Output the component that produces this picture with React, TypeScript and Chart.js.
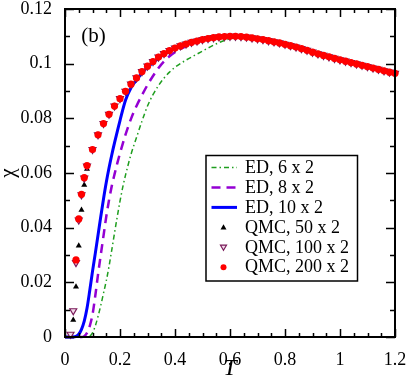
import React, { useEffect, useRef } from 'react';
import { Chart, registerables } from 'chart.js';
Chart.register(...registerables);

const FONT = "'Liberation Serif', 'Times New Roman', serif";

const xTickLabels = ['0', '0.2', '0.4', '0.6', '0.8', '1', '1.2'];
const yTickLabels = ['0', '0.02', '0.04', '0.06', '0.08', '0.1', '0.12'];

// ED, 6 x 2
const ed6T = [0, 0.08, 0.09, 0.10, 0.11, 0.12, 0.13, 0.14, 0.15, 0.16, 0.17, 0.18, 0.19, 0.20, 0.21, 0.22, 0.24, 0.26, 0.28, 0.30, 0.32, 0.34, 0.36, 0.38, 0.40, 0.44, 0.48, 0.52, 0.56, 0.60, 0.65, 0.70, 0.80, 0.90, 1.00, 1.10, 1.20];
const ed6Chi = [0, 0, 0.0003, 0.0015, 0.0040, 0.0075, 0.0115, 0.0160, 0.0205, 0.0258, 0.0318, 0.0380, 0.0440, 0.0497, 0.0548, 0.0592, 0.0668, 0.0730, 0.0790, 0.0845, 0.0887, 0.0920, 0.0947, 0.0969, 0.0987, 0.1013, 0.1035, 0.1057, 0.1077, 0.1091, 0.1097, 0.1094, 0.1071, 0.1042, 0.1014, 0.0989, 0.0965];

// ED, 8 x 2
const ed8T = [0, 0.06, 0.07, 0.08, 0.09, 0.10, 0.11, 0.12, 0.13, 0.14, 0.15, 0.16, 0.17, 0.18, 0.19, 0.20, 0.22, 0.24, 0.26, 0.28, 0.30, 0.32, 0.34, 0.36, 0.38, 0.40, 0.45, 0.50, 0.55, 0.60, 0.70, 0.80, 0.90, 1.00, 1.10, 1.20];
const ed8Chi = [0, 0, 0.0003, 0.0015, 0.0040, 0.0082, 0.0150, 0.0228, 0.0300, 0.0370, 0.0440, 0.0500, 0.0552, 0.0595, 0.0635, 0.0672, 0.0740, 0.0798, 0.0845, 0.0885, 0.0922, 0.0955, 0.0984, 0.1008, 0.1027, 0.1042, 0.1068, 0.1085, 0.1095, 0.1099, 0.1091, 0.1071, 0.1042, 0.1014, 0.0989, 0.0965];

// ED, 10 x 2
const ed10T = [0, 0.03, 0.04, 0.05, 0.06, 0.07, 0.08, 0.09, 0.10, 0.11, 0.12, 0.13, 0.14, 0.15, 0.16, 0.17, 0.18, 0.19, 0.20, 0.22, 0.24, 0.26, 0.28, 0.30, 0.32, 0.34, 0.36, 0.40, 0.45, 0.50, 0.55, 0.60, 0.70, 0.80, 0.90, 1.00, 1.10, 1.20];
const ed10Chi = [0, 0, 0.0002, 0.0010, 0.0028, 0.0058, 0.0105, 0.0170, 0.0240, 0.0305, 0.0372, 0.0440, 0.0505, 0.0565, 0.0618, 0.0666, 0.0710, 0.0751, 0.0792, 0.0866, 0.0912, 0.0940, 0.0966, 0.0987, 0.1004, 0.1020, 0.1034, 0.1056, 0.1076, 0.1089, 0.1097, 0.1100, 0.1091, 0.1071, 0.1042, 0.1014, 0.0989, 0.0965];

// QMC, low temperatures (sizes differ)
const qmc50LowT = [0.02, 0.03, 0.04, 0.05, 0.06, 0.07, 0.08];
const qmc50LowChi = [0.0005, 0.0062, 0.0184, 0.0334, 0.0465, 0.0556, 0.0615];
const qmc100LowT = [0.02, 0.03, 0.04, 0.05, 0.06, 0.07, 0.08];
const qmc100LowChi = [0.0010, 0.0096, 0.0272, 0.0428, 0.0520, 0.0581, 0.0625];
const qmc200LowT = [0.04, 0.05, 0.06, 0.07, 0.08];
const qmc200LowChi = [0.0282, 0.0432, 0.0522, 0.0583, 0.0627];

// QMC, T >= 0.1: all three sizes coincide
const qmcHighT = [0.10, 0.12, 0.14, 0.16, 0.18, 0.20, 0.22, 0.24, 0.26, 0.28, 0.30, 0.32, 0.34, 0.36, 0.38, 0.40, 0.42, 0.44, 0.46, 0.48, 0.50, 0.52, 0.54, 0.56, 0.58, 0.60, 0.62, 0.64, 0.66, 0.68, 0.70, 0.72, 0.74, 0.76, 0.78, 0.80, 0.82, 0.84, 0.86, 0.88, 0.90, 0.92, 0.94, 0.96, 0.98, 1.00, 1.02, 1.04, 1.06, 1.08, 1.10, 1.12, 1.14, 1.16, 1.18, 1.20];
const qmcHighChi = [0.0686, 0.0740, 0.0781, 0.0815, 0.0845, 0.0872, 0.0899, 0.0925, 0.0948, 0.0971, 0.0991, 0.1008, 0.1024, 0.1037, 0.1048, 0.1057, 0.1065, 0.1072, 0.1078, 0.1083, 0.1088, 0.1092, 0.1095, 0.1098, 0.1099, 0.1100, 0.1100, 0.1099, 0.1097, 0.1094, 0.1091, 0.1088, 0.1084, 0.1080, 0.1076, 0.1071, 0.1066, 0.1061, 0.1055, 0.1049, 0.1042, 0.1036, 0.1030, 0.1025, 0.1019, 0.1014, 0.1009, 0.1004, 0.0999, 0.0994, 0.0989, 0.0984, 0.0979, 0.0974, 0.0969, 0.0965];

const zip = (xs: number[], ys: number[]) => xs.map((x, i) => ({ x, y: ys[i] }));

const LEGEND = { left: 206, top: 155.5, right: 357.5, bottom: 281, firstRow: 167.5, rowGap: 19.95, lineX0: 211.5, lineX1: 237, markX: 223.5, textX: 245 };

const framePlugin = {
  id: 'frameTicks',
  afterDraw(chart: any) {
    const { ctx, chartArea: a, scales } = chart;
    const xs = scales.x, ys = scales.y;
    ctx.save();
    ctx.strokeStyle = '#000';
    ctx.lineWidth = 1.5;
    ctx.beginPath();
    for (let k = 0; k <= 24; k++) {
      const v = k * 0.05;
      const px = Math.round(xs.getPixelForValue(v)) + 0.5;
      const len = k % 4 === 0 ? 8 : 4;
      ctx.moveTo(px, a.bottom); ctx.lineTo(px, a.bottom - len);
      ctx.moveTo(px, a.top); ctx.lineTo(px, a.top + len);
    }
    for (let k = 0; k <= 12; k++) {
      const v = k * 0.01;
      const py = Math.round(ys.getPixelForValue(v)) + 0.5;
      const len = k % 2 === 0 ? 9 : 5;
      ctx.moveTo(a.left, py); ctx.lineTo(a.left + len, py);
      ctx.moveTo(a.right, py); ctx.lineTo(a.right - len, py);
    }
    ctx.stroke();
    ctx.lineWidth = 2;
    ctx.strokeRect(a.left, a.top, a.right - a.left, a.bottom - a.top);

    ctx.fillStyle = '#000';
    ctx.font = `21px ${FONT}`;
    ctx.textAlign = 'center';
    ctx.textBaseline = 'middle';
    ctx.fillText('(b)', 93.5, 36);

    // legend box
    const L = LEGEND;
    ctx.lineWidth = 1.5;
    ctx.strokeRect(L.left, L.top, L.right - L.left, L.bottom - L.top);
    ctx.font = `18px ${FONT}`;
    ctx.textAlign = 'left';
    chart.data.datasets.forEach((ds: any, i: number) => {
      const y = L.firstRow + i * L.rowGap;
      if (ds.showLine) {
        ctx.save();
        ctx.beginPath();
        ctx.setLineDash(ds.borderDash || []);
        ctx.lineWidth = ds.borderWidth;
        ctx.strokeStyle = ds.borderColor;
        ctx.moveTo(L.lineX0, y); ctx.lineTo(L.lineX1, y);
        ctx.stroke();
        ctx.restore();
      } else {
        ctx.save();
        ctx.fillStyle = ds.backgroundColor;
        ctx.strokeStyle = ds.borderColor;
        ctx.lineWidth = ds.borderWidth || 0;
        const r = 3;
        ctx.beginPath();
        if (ds.pointStyle === 'triangle') {
          const s = ds.rotation === 180 ? -1 : 1;
          ctx.moveTo(L.markX, y - s * r);
          ctx.lineTo(L.markX + r, y + s * r * 0.7);
          ctx.lineTo(L.markX - r, y + s * r * 0.7);
          ctx.closePath();
        } else {
          ctx.arc(L.markX, y, r, 0, Math.PI * 2);
        }
        ctx.fill();
        if (ds.borderWidth) ctx.stroke();
        ctx.restore();
      }
      ctx.fillStyle = '#000';
      ctx.fillText(ds.label, L.textX, y + 0.5);
    });
    ctx.restore();
  },
};

export default function App() {
  const ref = useRef<HTMLCanvasElement>(null);
  useEffect(() => {
    if (!ref.current) return;
    const chart = new Chart(ref.current, {
      type: 'scatter',
      data: {
        datasets: [
          { label: 'ED, 6 x 2', data: zip(ed6T, ed6Chi), showLine: true, borderColor: '#1f9e1f', borderWidth: 1.5, borderDash: [5, 3, 1.5, 3], pointRadius: 0, cubicInterpolationMode: 'monotone', order: 5, clip: false } as any,
          { label: 'ED, 8 x 2', data: zip(ed8T, ed8Chi), showLine: true, borderColor: '#9400d3', borderWidth: 2.5, borderDash: [9, 6], pointRadius: 0, cubicInterpolationMode: 'monotone', order: 4, clip: false } as any,
          { label: 'ED, 10 x 2', data: zip(ed10T, ed10Chi), showLine: true, borderColor: '#0000ff', borderWidth: 3, pointRadius: 0, cubicInterpolationMode: 'monotone', order: 3, clip: false } as any,
          { label: 'QMC, 50 x 2', data: zip([...qmc50LowT, ...qmcHighT], [...qmc50LowChi, ...qmcHighChi]), pointStyle: 'triangle', pointRadius: 3.5, backgroundColor: '#000000', borderColor: '#000000', borderWidth: 0, order: 2, clip: false } as any,
          { label: 'QMC, 100 x 2', data: zip([...qmc100LowT, ...qmcHighT], [...qmc100LowChi, ...qmcHighChi]), pointStyle: 'triangle', rotation: 180, pointRotation: 180, pointRadius: 4, backgroundColor: '#f2dcea', borderColor: '#7a1a5a', borderWidth: 1.2, order: 1, clip: false } as any,
          { label: 'QMC, 200 x 2', data: zip([...qmc200LowT, ...qmcHighT], [...qmc200LowChi, ...qmcHighChi]), pointStyle: 'circle', pointRadius: 3.6, backgroundColor: '#ff0000', borderColor: '#ff0000', borderWidth: 0, order: 0, clip: false } as any,
        ],
      },
      options: {
        animation: false,
        responsive: false,
        devicePixelRatio: 1,
        layout: { padding: { top: 9, right: 12, left: 0, bottom: 0 } },
        plugins: { legend: { display: false }, tooltip: { enabled: false } },
        scales: {
          x: {
            type: 'linear', min: 0, max: 1.2,
            grid: { display: false },
            border: { display: false },
            ticks: { stepSize: 0.2, autoSkip: false, maxRotation: 0, padding: 4, color: '#000', font: { family: FONT, size: 18 }, callback: (_v: any, i: number) => xTickLabels[i] },
            title: { display: true, text: 'T', color: '#000', font: { family: FONT, size: 24, style: 'italic', lineHeight: 0.8 }, padding: { top: 0, bottom: 1 } },
            afterFit: (s: any) => { s.height = 42; s.paddingLeft = 0; s.paddingRight = 0; },
          },
          y: {
            type: 'linear', min: 0, max: 0.12,
            grid: { display: false },
            border: { display: false },
            ticks: { stepSize: 0.02, autoSkip: false, padding: 5, color: '#000', font: { family: FONT, size: 18 }, callback: (_v: any, i: number) => yTickLabels[i] },
            title: { display: true, text: 'χ', color: '#000', font: { family: FONT, size: 21, lineHeight: 0.79 }, padding: { top: 0, bottom: 0 } },
            afterFit: (s: any) => { s.width = 65; s.paddingTop = 0; s.paddingBottom = 0; },
          },
        },
      } as any,
      plugins: [framePlugin],
    });
    return () => chart.destroy();
  }, []);
  return (
    <div style={{ position: 'fixed', left: 0, top: 0, width: 407, height: 379, background: '#fff' }}>
      <canvas ref={ref} width={407} height={379} />
    </div>
  );
}
